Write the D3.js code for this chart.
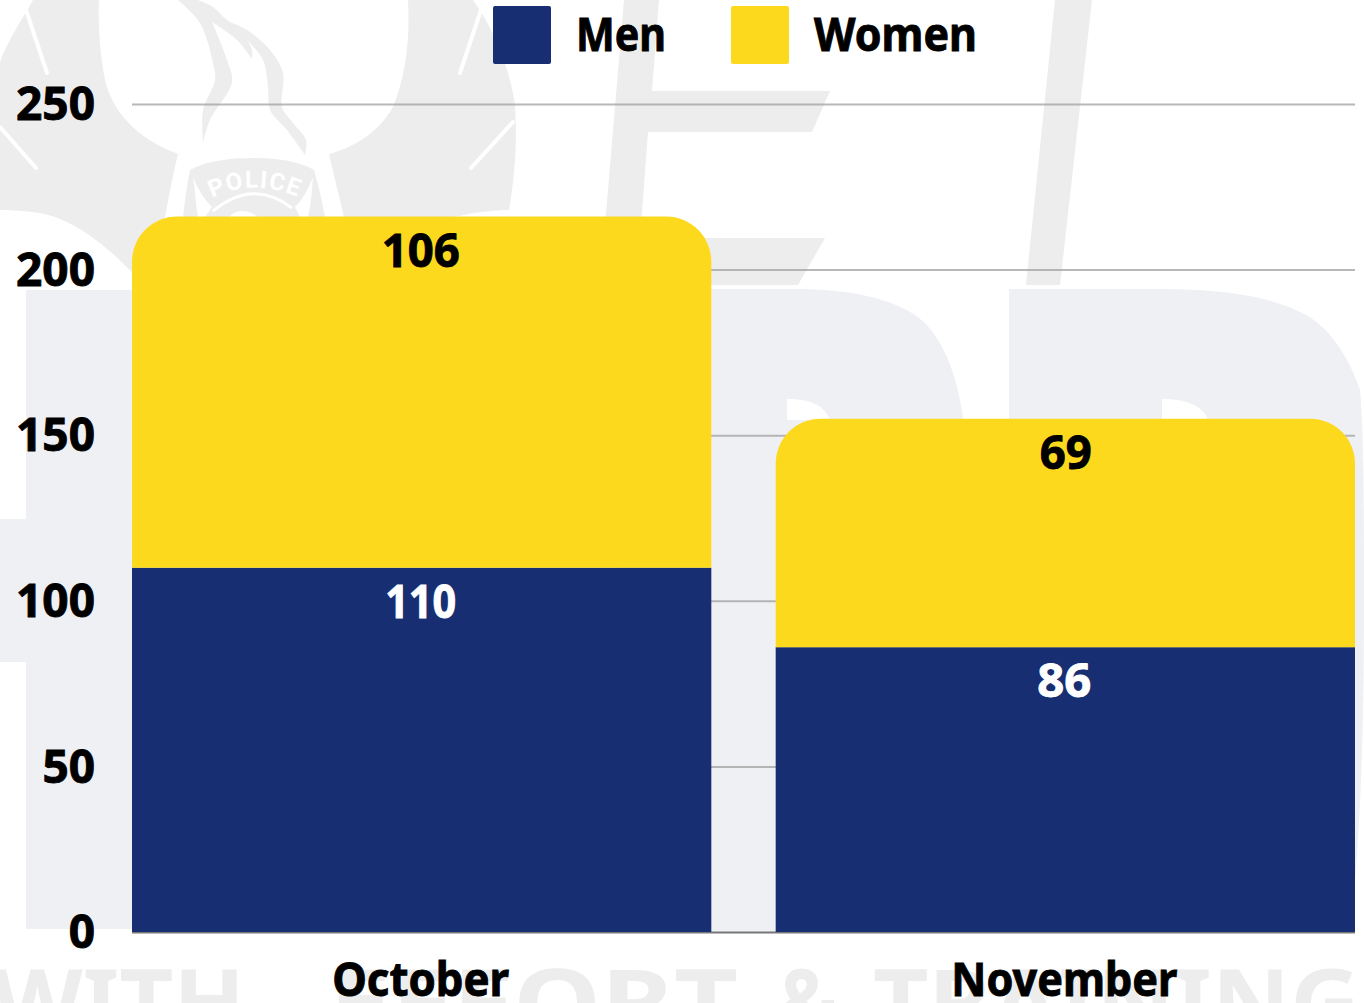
<!DOCTYPE html>
<html><head><meta charset="utf-8">
<script src="https://cdn.jsdelivr.net/npm/d3@7"></script>
<style>
html,body{margin:0;padding:0;background:#fff;overflow:hidden}
svg{display:block}
text{font-family:"Noto Sans",sans-serif;font-weight:700}
</style></head><body>
<svg id="c" width="1364" height="1003"></svg>
<script>
const months = ["October","November"];
const seriesNames = ["Men","Women"];
const men = [110,86];
const women = [106,69];
const yTicks = [0,50,100,150,200,250];
const seriesColors = ["#172e72","#fdd91e"];

const svg = d3.select("#c");

// watermark
const wm = svg.append("g");
const G1="#ededed", G2="#eff0f4";
wm.append("path").attr("fill",G1).attr("d",
 "M33,0 C22,20 8,40 0,62 L0,210 C20,210 40,212 55,217 C85,228 110,250 132,272 L160,272 L165,217 C169,195 174,170 178,154 C135,138 112,110 105,80 C100,55 98,25 99,0 Z");
wm.append("path").attr("fill",G1).attr("d",
 "M408,0 C410,40 406,75 393,107 C380,130 358,146 329,154 C335,180 340,200 344,217 L455,217 C475,212 495,210 509,210 C516,170 517,135 515,105 C510,70 495,30 473,0 Z");
// flame
const smooth = d3.line().curve(d3.curveCatmullRom.alpha(0.5));
const flameSegs = [
 [[178,0],[200,23],[213,63],[215,80],[203,110],[203,142]],
 [[203,142],[210,120],[232,82],[227,60],[212,22]],
 [[212,22],[237,40],[252,59]],
 [[252,59],[252,50],[247,40]],
 [[247,40],[263,60],[268,87],[270,110],[287,130],[305,155]],
 [[305,155],[306,140],[293,123],[282,107],[283,73],[270,50],[247,30],[227,20],[213,7],[198,0]]
];
wm.append("path").attr("fill",G1).attr("d",
  flameSegs.map((s,i)=>{const d=smooth(s);return i===0?d:d.replace(/^M[^C]*/,"");}).join("")+"Z");
// badge
wm.append("path").attr("fill",G1).attr("d",
 "M190,170 C205,161 230,158 252,158 C275,158 300,161 314,170 C318,185 322,200 325,217 L183,217 C185,200 187,185 190,170 Z");
wm.append("path").attr("fill","#fff").attr("d","M193,177 C198,190 205,200 212,207 L205,217 L198,217 C196,205 195,190 193,177 Z");
wm.append("path").attr("fill","#fff").attr("d","M313,177 C308,190 302,200 295,207 L300,217 L308,217 C311,205 312,190 313,177 Z");
wm.append("path").attr("fill","none").attr("stroke","#fff").attr("stroke-width",3).attr("d","M213,211 Q253,178 292,208");
wm.append("path").attr("fill","#fff").attr("d","M230,217 C232,210 250,208 257,217 Z");
wm.append("path").attr("id","policeArc").attr("fill","none").attr("d","M212,198 Q253,178 298,197");
wm.append("text").attr("font-size",24).attr("fill","#ffffff")
 .style("font-family","Roboto,sans-serif")
 .append("textPath").attr("href","#policeArc").attr("textLength",88).text("POLICE");
[[26,10,47,73],[0,127,36,168],[481,10,460,73],[513,122,471,168]].forEach(s=>{
  wm.append("line").attr("x1",s[0]).attr("y1",s[1]).attr("x2",s[2]).attr("y2",s[3])
    .attr("stroke","#fff").attr("stroke-width",4).attr("stroke-linecap","round");
});
wm.append("path").attr("fill",G1).attr("d",
 "M624,0 L659,0 L652,91 L830,91 L812,132 L648,132 L640,238 L825,238 L798,285 L600,285 Z");
wm.append("path").attr("fill",G1).attr("d","M1055,0 L1092,0 L1060,285 L1026,285 Z");
wm.append("path").attr("fill",G2).attr("d",
 "M26,290 L132,290 L132,929 L26,929 L26,662 L0,662 L0,519 L26,519 Z");
wm.append("path").attr("fill",G2).attr("d",
 "M600,289 L795,289 C850,289 890,298 918,317 C935,330 955,360 963,418 L963,932 L640,932 Z");
wm.append("path").attr("fill",G2).attr("d",
 "M1009,289 L1154,289 C1220,289 1265,295 1300,312 C1330,325 1350,360 1360,390 C1364,430 1364,520 1364,600 C1364,700 1362,800 1355,880 L1009,880 Z");
wm.append("path").attr("fill","#fff").attr("d","M787,399 C810,399 824,405 830,420 L787,420 Z");
wm.append("path").attr("fill","#fff").attr("d","M1162,399 C1185,399 1203,405 1208,420 L1162,420 Z");
const wmWords = [["WITH",-8,253],["EFFORT",329,409],["&",777,60],["TRAINING",873,487]];
wmWords.forEach(w=>{
  wm.append("text").attr("x",w[1]).attr("y",1035).attr("font-size",92).attr("fill",G1)
    .attr("textLength",w[2]).attr("lengthAdjust","spacingAndGlyphs").text(w[0]);
});

// scales
const x = d3.scaleBand().domain(months).range([132,1355]).paddingInner(0.1).paddingOuter(0);
const y = d3.scaleLinear().domain([0,250]).range([932,104]);

// grid
const grid = svg.append("g").attr("transform","translate(132,0)")
  .call(d3.axisLeft(y).tickValues(yTicks).tickSize(-1223).tickFormat(""));
grid.select(".domain").remove();
grid.selectAll("line").attr("stroke","#a0a0a0").attr("stroke-opacity",0.75).attr("stroke-width",2);
grid.selectAll(".tick").filter(d=>d===0).select("line").attr("stroke","#777").attr("stroke-opacity",1);

// bars
const r = 45;
const bw = x.bandwidth();
svg.append("g").selectAll("rect").data(months).join("rect")
  .attr("x",d=>x(d)).attr("width",bw)
  .attr("y",(d,i)=>y(men[i])).attr("height",(d,i)=>y(0)-y(men[i]))
  .attr("fill",seriesColors[0]);
svg.append("g").selectAll("path").data(months).join("path")
  .attr("fill",seriesColors[1])
  .attr("d",(d,i)=>{
    const l=x(d), t=y(men[i]+women[i]), b=y(men[i]);
    const p=d3.path();
    p.moveTo(l,b); p.lineTo(l,t+r); p.arcTo(l,t,l+r,t,r);
    p.lineTo(l+bw-r,t); p.arcTo(l+bw,t,l+bw,t+r,r); p.lineTo(l+bw,b); p.closePath();
    return p.toString();
  });

// fitted text helper
const FS = 46, HEAVY = 0.9;
function put(g,txt,xp,yp,w,anchor,fill){
  return g.append("text").attr("x",xp).attr("y",yp).attr("font-size",FS)
    .attr("text-anchor",anchor).attr("fill",fill).attr("stroke",fill).attr("stroke-width",HEAVY)
    .attr("textLength",w).attr("lengthAdjust","spacingAndGlyphs").text(txt);
}

// value labels
const labels = svg.append("g");
const womenW=[78,52], menW=[71,54];
months.forEach((m,i)=>{
  const cx = x(m)+bw/2;
  put(labels,women[i],cx-(i?-0.5:1),y(men[i]+women[i])+50,womenW[i],"middle","#000");
  put(labels,men[i],cx-1,y(men[i])+50,menW[i],"middle","#fff");
});

// y axis labels
const ya = svg.append("g").attr("transform","translate(95,0)")
  .call(d3.axisLeft(y).tickValues(yTicks).tickSize(0).tickPadding(0));
ya.select(".domain").remove();
ya.selectAll("text").attr("font-size",FS).attr("fill","#000").attr("stroke","#000").attr("stroke-width",HEAVY)
  .attr("dy","0.34em")
  .style("font-family",'"Noto Sans",sans-serif').style("font-weight",700);

// x axis labels
const xa = svg.append("g").attr("transform","translate(0,932)")
  .call(d3.axisBottom(x).tickSize(0).tickPadding(0));
xa.select(".domain").remove();
const xW=[177,226];
xa.selectAll("text").attr("font-size",FS).attr("fill","#000").attr("stroke","#000").attr("stroke-width",HEAVY)
  .attr("dy",0).attr("y",64).attr("dx",-1)
  .attr("textLength",(d,i)=>xW[i]).attr("lengthAdjust","spacingAndGlyphs")
  .style("font-family",'"Noto Sans",sans-serif').style("font-weight",700);

// legend
const lg = svg.append("g");
const lgX=[493,731], lgW=[90,163];
seriesNames.forEach((n,i)=>{
  lg.append("rect").attr("x",lgX[i]).attr("y",6).attr("width",58).attr("height",58)
    .attr("rx",2).attr("fill",seriesColors[i]);
  put(lg,n,lgX[i]+83,51,lgW[i],"start","#000");
});
</script>
</body></html>
